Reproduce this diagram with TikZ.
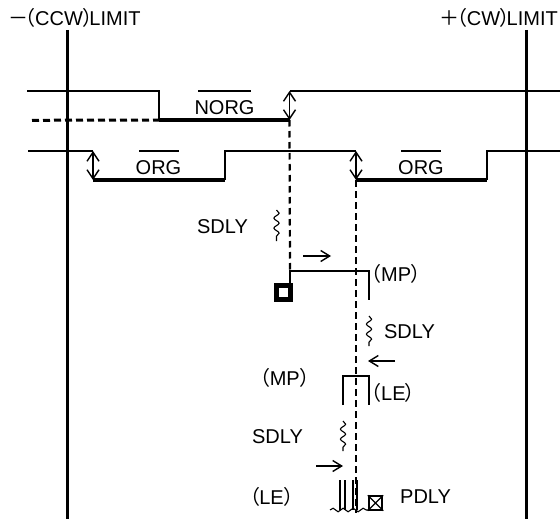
\documentclass[tikz,border=0pt]{standalone}
\usepackage{fontspec}
\setmainfont{Liberation Sans}
\newfontfamily\cjkf[RawFeature=+palt]{Noto Sans CJK JP}
\usetikzlibrary{arrows.meta,decorations.pathmorphing}
\newcommand{\lpar}{{\cjkf （}}
\newcommand{\rpar}{{\cjkf ）}}
\tikzset{
  x=1pt,y=-1pt,
  lbl/.style={inner sep=0pt,font=\fontsize{20}{22}\selectfont},
  limit/.style={line width=3.4pt},
  sig/.style={line width=2pt},
  low/.style={line width=4.6pt},
  dash line/.style={line width=2.2pt,dash pattern=on 6.5pt off 4.5pt},
  bar/.style={line width=1.6pt},
  barb/.style={line width=1.5pt,-{Straight Barb[length=9pt,width=11pt,line width=1.4pt]}},
  dbl/.style={line width=1.6pt,{Straight Barb[length=9pt,width=12pt,line width=1.4pt]}-{Straight Barb[length=9pt,width=12pt,line width=1.4pt]}},
  wig/.style={line width=1.1pt,decorate,decoration={snake,amplitude=2.6pt,segment length=10pt}},
  origin mark/.style={draw,line width=5pt,fill=white,minimum size=14.5pt,inner sep=0pt},
  prox mark/.style={draw,line width=2pt,fill=white,minimum size=13.5pt,inner sep=0pt},
}
\begin{document}
\begin{tikzpicture}
\useasboundingbox (0,0) rectangle (560,519);
% labels on top
\node[lbl,anchor=west] (ccw) at (8,17.5) {{\cjkf －}\kern-3pt\lpar CCW\rpar\kern-3.5pt LIMIT};
\node[lbl,anchor=east] (cw) at (558,17.5) {{\cjkf ＋}\kern-3pt\lpar CW\rpar\kern-3.5pt LIMIT};
\coordinate (lt) at (67.5,30); \coordinate (lb) at (67.5,519);
\coordinate (rt) at (526.5,30); \coordinate (rb) at (526.5,519);
\draw[limit] (lt) -- (lb);
\draw[limit] (rt) -- (rb);
% NORG
\coordinate (n0) at (27,91); \coordinate (n1) at (159,91); \coordinate (n2) at (159,120);
\coordinate (n3) at (289.5,120); \coordinate (n4) at (289.5,91); \coordinate (n5) at (560,91);
\coordinate (nd) at (32,120.3);
\draw[sig] (n0) -- (n1) -- (n2);
\draw[low] (n2) -- (n3);
\draw[sig] (n4) -- (n5);
\draw[line width=3pt,dash pattern=on 7pt off 4pt] (nd) -- (n2);
\draw[dbl] (n4) -- (n3);
\node[lbl] (norg) at (224.5,107.5) {NORG};
\draw[bar] (198,91) -- (251,91);
% ORG
\coordinate (o0) at (28,151); \coordinate (o1) at (93,151); \coordinate (o2) at (93,180);
\coordinate (o3) at (225,180); \coordinate (o4) at (225,151); \coordinate (o5) at (356,151);
\coordinate (o6) at (356,180); \coordinate (o7) at (487,180); \coordinate (o8) at (487,151);
\coordinate (o9) at (560,151);
\draw[sig] (o0) -- (o1);
\draw[low] (o2) -- (o3);
\draw[sig] (o3) -- (o4) -- (o5);
\draw[low] (o6) -- (o7);
\draw[sig] (o7) -- (o8) -- (o9);
\draw[dbl] (o1) -- (o2);
\draw[dbl] (o5) -- (o6);
\node[lbl] (org1) at (158.5,167.5) {ORG};
\node[lbl] (org2) at (421,167.5) {ORG};
\draw[bar] (139,151) -- (179,151);
\draw[bar] (401,151) -- (441,151);
% dashed verticals
\coordinate (d1) at (290,271);
\coordinate (d2) at (356,513);
\draw[dash line] (n3) -- (d1);
\draw[dash line] (o6) -- (d2);
% motion 1
\node[origin mark] (sq) at (283.5,292.5) {};
\coordinate (m1) at (369,271); \coordinate (m2) at (369,300);
\draw[sig] (sq.north -| d1) -- (d1) -- (m1) -- (m2);
\node[lbl,anchor=west] (mp1) at (371,274) {\lpar MP\rpar};
\node[lbl] (sd1) at (222.5,227) {SDLY};
\coordinate (w1a) at (276.5,210); \coordinate (w1b) at (276.5,241);
\draw[wig] (w1a) -- (w1b);
\coordinate (a1a) at (303,256); \coordinate (a1b) at (331,256);
\draw[barb] (a1a) -- (a1b);
% motion 2
\coordinate (w2a) at (369,316); \coordinate (w2b) at (369,346);
\draw[wig] (w2a) -- (w2b);
\node[lbl] (sd2) at (409.5,332) {SDLY};
\coordinate (a2a) at (395,361); \coordinate (a2b) at (368,361);
\draw[barb] (a2a) -- (a2b);
\coordinate (b0) at (343,405); \coordinate (b1) at (343,376); \coordinate (b2) at (369,376); \coordinate (b3) at (369,405);
\draw[sig] (b0) -- (b1) -- (b2) -- (b3);
\node[lbl,anchor=west] (le1) at (371,392.5) {\lpar LE\rpar};
\node[lbl,anchor=east] (mp2) at (310,378) {\lpar MP\rpar};
% motion 3
\node[lbl] (sd3) at (277.5,437) {SDLY};
\coordinate (w3a) at (343,421); \coordinate (w3b) at (343,451);
\draw[wig] (w3a) -- (w3b);
\coordinate (a3a) at (316,466); \coordinate (a3b) at (343,466);
\draw[barb] (a3a) -- (a3b);
\node[lbl,anchor=east] (le2) at (294,497) {\lpar LE\rpar};
\foreach \x/\n in {340/p1,345/p2,353/p3}{
  \coordinate (\n a) at (\x,480); \coordinate (\n b) at (\x,510);
  \draw[line width=1.5pt] (\n a) -- (\n b);
}
\coordinate (p4a) at (357,480); \coordinate (p4b) at (357,510);
\draw[line width=2pt] (p4a) -- (p4b);
\coordinate (wla) at (330,510); \coordinate (wlb) at (369,510);
\draw[line width=1.1pt,decorate,decoration={snake,amplitude=1.8pt,segment length=10pt}] (wla) -- (wlb);
\node[prox mark] (pd) at (375.5,503) {};
\draw[line width=1.2pt] (pd.north west) -- (pd.south east) (pd.north east) -- (pd.south west);
\node[lbl,anchor=west] (pdly) at (400,497) {PDLY};
\end{tikzpicture}
\end{document}
